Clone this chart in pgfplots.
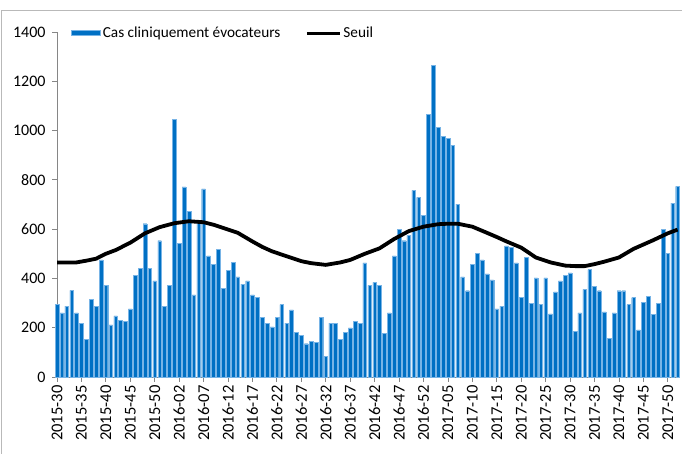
\documentclass[border=0pt]{standalone}
\usepackage{fontspec}
\setmainfont{Carlito}
\usepackage{pgfplots}
\pgfplotsset{compat=1.18}
\usepackage{pgfplotstable}
\definecolor{barblue}{RGB}{0,112,196}
\definecolor{baredge}{RGB}{120,180,230}
\definecolor{axgray}{RGB}{134,134,134}
\definecolor{framegray}{RGB}{185,185,185}

\pgfplotstableread{
x y
0 294
1 260
2 288
3 351
4 260
5 219
6 152
7 316
8 288
9 475
10 373
11 211
12 248
13 231
14 226
15 276
16 413
17 441
18 622
19 441
20 390
21 553
22 288
23 372
24 1045
25 542
26 772
27 672
28 333
29 625
30 763
31 492
32 457
33 518
34 361
35 434
36 464
37 406
38 377
39 390
40 333
41 322
42 243
43 219
44 203
45 243
46 294
47 219
48 272
49 181
50 169
51 135
52 146
53 141
54 243
55 85
56 219
57 219
58 153
59 181
60 199
61 227
62 219
63 463
64 372
65 384
66 372
67 176
68 260
69 492
70 599
71 553
72 575
73 757
74 729
75 656
76 1067
77 1266
78 1012
79 976
80 967
81 939
82 701
83 406
84 350
85 457
86 502
87 475
88 418
89 394
90 276
91 288
92 532
93 525
94 463
95 322
96 486
97 299
98 402
99 294
100 402
101 256
102 345
103 390
104 413
105 423
106 185
107 260
108 356
109 436
110 369
111 350
112 264
113 157
114 260
115 350
116 350
117 294
118 322
119 191
120 304
121 327
122 255
123 299
124 599
125 502
126 706
127 774
}\cases

\pgfplotstableread{
x y
0 465
4 465
6 472
8 480
10 500
12 515
15 545
18 583
21 608
24 624
27 632
30 628
32 618
34 605
37 585
40 550
42 528
44 510
47 490
50 470
52 462
55 455
58 465
60 475
63 500
66 522
69 560
72 592
75 610
78 620
80 622
82 622
85 610
88 585
90 568
92 550
95 525
98 485
101 465
104 452
106 450
108 450
110 458
112 468
115 485
118 520
122 555
125 583
127 598
}\seuil

\begin{document}
\begin{tikzpicture}[x=1pt,y=1pt]
\useasboundingbox (0,0) rectangle (682,454);
\draw[framegray, line width=1pt] (1.5,0) -- (1.5,443.5) -- (682,443.5);
\begin{axis}[
  at={(57pt,77pt)}, anchor=south west,
  scale only axis, width=623pt, height=345pt,
  xmin=0, xmax=127.5, ymin=0, ymax=1400,
  axis x line*=bottom, axis y line*=left,
  axis line style={-, axgray, line width=0.8pt},
  ytick={0,200,...,1400},
  xtick={0,5,...,125},
  xticklabels={2015-30,2015-35,2015-40,2015-45,2015-50,2016-02,2016-07,2016-12,2016-17,2016-22,2016-27,2016-32,2016-37,2016-42,2016-47,2016-52,2017-05,2017-10,2017-15,2017-20,2017-25,2017-30,2017-35,2017-40,2017-45,2017-50},
  x tick label style={rotate=90, anchor=east, font=\fontsize{16.5}{18}\selectfont},
  y tick label style={font=\fontsize{16}{18}\selectfont, xshift=-3pt},
  /pgf/number format/assume math mode=true,
  /pgf/number format/set thousands separator={},
  tick align=outside, major tick length=5pt,
  tick style={axgray, line width=0.8pt},
  clip=false,
  legend columns=2,
  legend style={draw=none, fill=none, at={(axis description cs:0.018,0.997)}, anchor=west,
    font=\fontsize{15.3}{18}\selectfont,
    /tikz/every even column/.append style={column sep=23pt}},
]
\addplot[ybar, bar width=3.7pt, fill=barblue, draw=baredge, line width=0.4pt,
  legend image code/.code={\draw[fill=barblue,draw=baredge] (0pt,-2.5pt) rectangle (29pt,2.5pt);}]
  table[x=x,y=y]{\cases};
\addplot[black, line width=3.8pt, line join=round, mark=none,
  legend image code/.code={\draw[black, line width=3pt] (0pt,0pt) -- (33pt,0pt);}]
  table[x=x,y=y]{\seuil};
\legend{Cas cliniquement évocateurs, Seuil}
\end{axis}
\end{tikzpicture}
\end{document}
